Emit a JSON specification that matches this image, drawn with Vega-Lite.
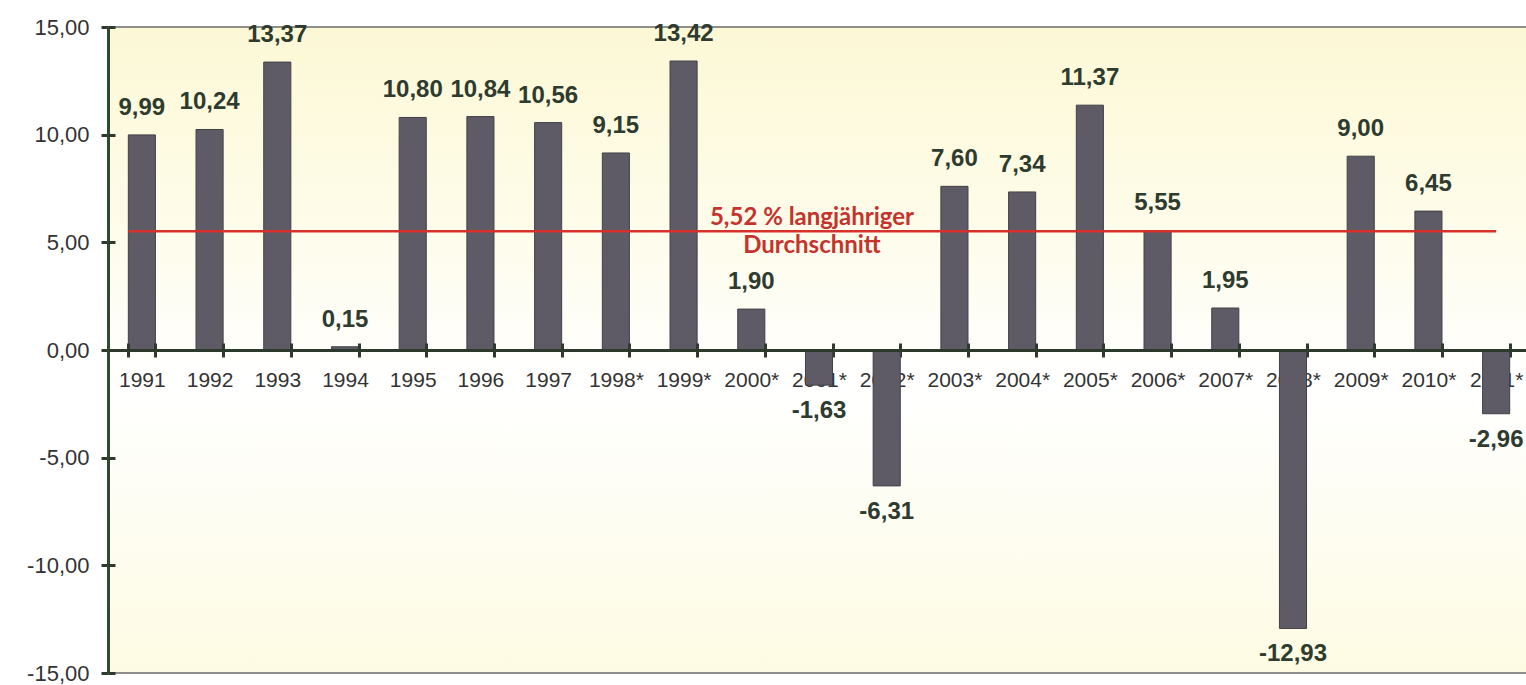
{
  "$schema": "https://vega.github.io/schema/vega-lite/v6.json",
  "autosize": {"type": "none"},
  "padding": {"left": 108, "top": 27, "right": 0, "bottom": 12},
  "width": 1422,
  "height": 646,
  "background": "#ffffff",
  "config": {
    "locale": {"number": {"decimal": ",", "thousands": ".", "grouping": [3], "currency": ["", " €"], "minus": "-"}},
    "view": {
      "stroke": "#6b6b6b", "strokeWidth": 1.5,
      "fill": {
        "gradient": "linear", "x1": 0, "y1": 0, "x2": 0, "y2": 1,
        "stops": [
          {"offset": 0, "color": "#fcf8d6"},
          {"offset": 0.3, "color": "#fefce9"},
          {"offset": 0.55, "color": "#ffffff"},
          {"offset": 0.8, "color": "#fefdf0"},
          {"offset": 1, "color": "#fdfbe2"}
        ]
      }
    }
  },
  "data": {"values": [
    {"year": "1991", "value": 9.99},
    {"year": "1992", "value": 10.24},
    {"year": "1993", "value": 13.37},
    {"year": "1994", "value": 0.15},
    {"year": "1995", "value": 10.80},
    {"year": "1996", "value": 10.84},
    {"year": "1997", "value": 10.56},
    {"year": "1998*", "value": 9.15},
    {"year": "1999*", "value": 13.42},
    {"year": "2000*", "value": 1.90},
    {"year": "2001*", "value": -1.63},
    {"year": "2002*", "value": -6.31},
    {"year": "2003*", "value": 7.60},
    {"year": "2004*", "value": 7.34},
    {"year": "2005*", "value": 11.37},
    {"year": "2006*", "value": 5.55},
    {"year": "2007*", "value": 1.95},
    {"year": "2008*", "value": -12.93},
    {"year": "2009*", "value": 9.00},
    {"year": "2010*", "value": 6.45},
    {"year": "2011*", "value": -2.96}
  ]},
  "resolve": {"axis": {"x": "independent", "y": "independent"}},
  "layer": [
    {
      "mark": {"type": "bar", "color": "#5f5b66", "stroke": "#404046", "strokeWidth": 1},
      "encoding": {
        "x": {
          "field": "year", "type": "nominal", "sort": null,
          "scale": {"paddingInner": 0.6, "paddingOuter": 0.3},
          "axis": {
            "orient": "bottom", "offset": -323, "title": null, "zindex": 0,
            "labelAngle": 0, "labelFont": "Liberation Sans", "labelFontSize": 21,
            "labelColor": "#333333", "labelPadding": 12, "labelOverlap": false,
            "domain": false,
            "tickBand": "extent", "tickSize": 7, "tickWidth": 3, "tickColor": "#2f3a2f"
          }
        },
        "y": {
          "field": "value", "type": "quantitative",
          "scale": {"domain": [-15, 15], "nice": false, "zero": false},
          "axis": {
            "orient": "left", "values": [-15, -10, -5, 0, 5, 10, 15], "format": ".2f",
            "title": null, "grid": false, "zindex": 1,
            "labelFont": "Liberation Sans", "labelFontSize": 22, "labelColor": "#333333",
            "labelPadding": 12,
            "domainColor": "#2e4a30", "domainWidth": 3,
            "tickSize": 7, "tickWidth": 3, "tickColor": "#2f3a2f"
          }
        }
      }
    },
    {
      "transform": [{"filter": "datum.value >= 0"}],
      "mark": {"type": "text", "font": "Liberation Sans", "fontWeight": "bold", "fontSize": 24, "color": "#2e3b2e", "baseline": "alphabetic", "dy": -20},
      "encoding": {
        "x": {
          "field": "year", "type": "nominal", "sort": null,
          "axis": {
            "orient": "top", "offset": -323, "title": null, "labels": false, "zindex": 1,
            "domain": true, "domainColor": "#2b3a2b", "domainWidth": 3,
            "tickBand": "extent", "tickSize": 7, "tickWidth": 3, "tickColor": "#2f3a2f"
          }
        },
        "y": {
          "field": "value", "type": "quantitative",
          "axis": {
            "orient": "right", "offset": -1422, "title": null, "labels": false, "domain": false,
            "grid": false, "values": [-15, -10, -5, 0, 5, 10, 15], "zindex": 1,
            "tickSize": 7, "tickWidth": 3, "tickColor": "#2f3a2f"
          }
        },
        "text": {"field": "value", "type": "quantitative", "format": ".2f"}
      }
    },
    {
      "transform": [{"filter": "datum.value < 0"}],
      "mark": {"type": "text", "font": "Liberation Sans", "fontWeight": "bold", "fontSize": 24, "color": "#2e3b2e", "baseline": "top", "dy": 14},
      "encoding": {
        "x": {"field": "year", "type": "nominal", "sort": null, "axis": null},
        "y": {"field": "value", "type": "quantitative", "axis": null},
        "text": {"field": "value", "type": "quantitative", "format": ".2f"}
      }
    },
    {
      "data": {"values": [{"avg": 5.52}]},
      "mark": {"type": "rule", "color": "#d8312c", "strokeWidth": 2.5},
      "encoding": {
        "x": {"datum": "1991", "bandPosition": 0, "axis": null},
        "x2": {"datum": "2011*", "bandPosition": 0.5},
        "y": {"field": "avg", "type": "quantitative", "axis": null}
      }
    },
    {
      "data": {"values": [{"avg": 5.52, "label": ["5,52 % langjähriger", "Durchschnitt"]}]},
      "mark": {"type": "text", "font": "Lato", "fontWeight": "bold", "fontSize": 24, "color": "#c4332d", "baseline": "middle", "align": "center", "lineHeight": 28, "dx": -7, "dy": -13},
      "encoding": {
        "x": {"datum": "2001*", "axis": null},
        "y": {"field": "avg", "type": "quantitative", "axis": null},
        "text": {"field": "label"}
      }
    }
  ]
}
